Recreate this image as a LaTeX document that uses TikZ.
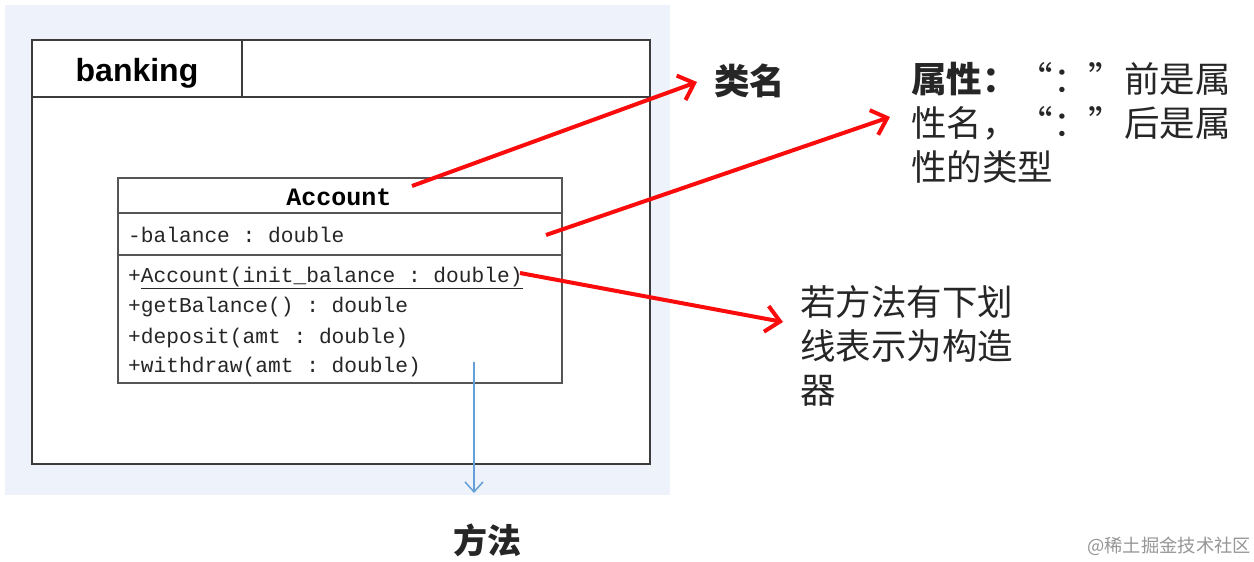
\documentclass[tikz,border=0pt]{standalone}
\usepackage{fontspec}
\setmainfont{Liberation Sans}
\setmonofont{Liberation Mono}
\newfontfamily\cjk{Noto Sans CJK SC}
\usetikzlibrary{arrows.meta}
\definecolor{bgblue}{RGB}{238,242,250}
\definecolor{framegray}{RGB}{60,60,60}
\definecolor{boxgray}{RGB}{85,85,85}
\definecolor{arrred}{RGB}{250,12,12}
\definecolor{arrblue}{RGB}{100,160,215}
\definecolor{wmgray}{RGB}{150,150,150}
\newcommand{\myoq}{\makebox[1em][r]{“}}
\newcommand{\mycq}{\makebox[1em][l]{”}}
\tikzset{
  frame/.style={draw=framegray, line width=1.6pt},
  clsbox/.style={draw=boxgray, line width=1.8pt},
  txt/.style={inner sep=0pt, anchor=base west},
  memb/.style={txt, font=\ttfamily\fontsize{21.2}{25}\selectfont, text=black!85},
  cjklab/.style={txt, align=left, font=\cjk\fontsize{35.5}{44}\selectfont, text=black!85},
  redarr/.style={draw=arrred, line width=4pt, -{Straight Barb[length=14pt,width=26pt,line width=4pt]}},
  bluearr/.style={draw=arrblue, line width=1.5pt, -{Straight Barb[length=10pt,width=18pt,line width=1.5pt]}}
}
\begin{document}
\begin{tikzpicture}[x=1pt,y=-1pt]
\useasboundingbox (0,0) rectangle (1254,562);
\fill[white] (0,0) rectangle (1254,562);
\fill[bgblue] (5,5) rectangle (670,495);
% package frame
\draw[frame, fill=white] (32,40) rectangle (650,464);
\draw[frame] (32,97) -- (650,97);
\draw[frame] (242,40) -- (242,97);
\node[inner sep=0pt, anchor=base, font=\bfseries\fontsize{32}{38}\selectfont] (pkg) at (137,81) {banking};
% class box
\draw[clsbox, fill=white] (118,178) rectangle (562,383);
\draw[clsbox] (118,213) -- (562,213);
\draw[clsbox, line width=2.2pt] (118,255) -- (562,255);
\node[inner sep=0pt, anchor=base, font=\ttfamily\bfseries\fontsize{25}{28}\selectfont] (cname) at (339,205) {Account};
\node[memb] (attr) at (128,242) {-balance : double};
\node[memb] (m1) at (128,282) {+\underline{Account(init\_balance : double)}};
\node[memb] (m2) at (128,312) {+getBalance() : double};
\node[memb] (m3) at (128,343) {+deposit(amt : double)};
\node[memb] (m4) at (128,372) {+withdraw(amt : double)};
% labels
\node[cjklab, font=\cjk\bfseries\fontsize{35.5}{44}\selectfont] (lname) at (714,94) {类名};
\node[cjklab, anchor=north west] (lattr) at (911,62) {{\bfseries 属性：}\myoq：\mycq 前是属\\性名，\myoq：\mycq 后是属\\性的类型};
\node[cjklab, anchor=north west] (lctor) at (800,285) {若方法有下划\\线表示为构造\\器};
\node[inner sep=0pt, anchor=base, font=\cjk\bfseries\fontsize{34}{40}\selectfont, text=black!85] (lmeth) at (487,553) {方法};
\node[txt, font=\cjk\fontsize{18.3}{22}\selectfont, text=wmgray] (wm) at (1087,552) {@稀土掘金技术社区};
% connector ends
\coordinate (s1) at (412,186);
\coordinate (e1) at (697,82);
\coordinate (s2) at (546,235);
\coordinate (e2) at (890,117);
\coordinate (s3) at (520,273);
\coordinate (e3) at (783,322);
\coordinate (s4) at (474,362);
\coordinate (e4) at (474,493);
\draw[redarr] (s1) -- (e1);
\draw[redarr] (s2) -- (e2);
\draw[redarr] (s3) -- (e3);
\draw[bluearr] (s4) -- (e4);
\end{tikzpicture}
\end{document}
